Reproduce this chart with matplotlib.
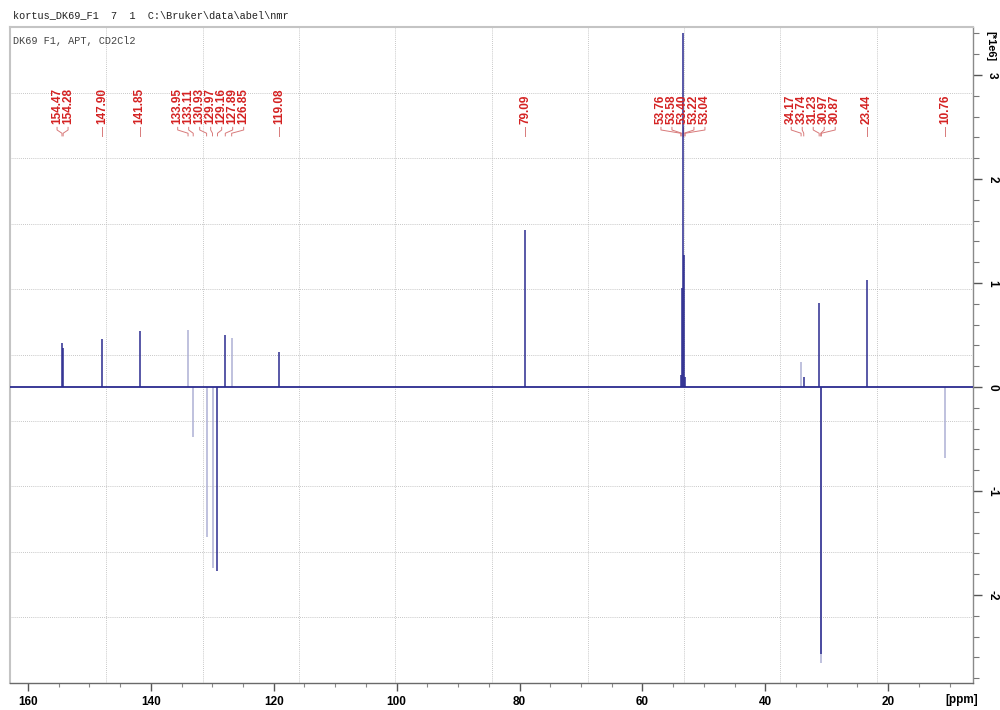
import numpy as np
import matplotlib
matplotlib.use("Agg")
import matplotlib.pyplot as plt
from matplotlib.ticker import MultipleLocator, FixedLocator
import matplotlib.transforms as mtransforms

# peak list: shift (ppm) and APT intensity (units of 1e6)
shifts = [154.47, 154.28, 147.90, 141.85, 133.95, 133.11, 130.93, 129.97,
          129.16, 127.89, 126.85, 119.08, 79.09, 53.76, 53.58, 53.40,
          53.22, 53.04, 34.17, 33.74, 31.23, 30.97, 30.87, 23.44, 10.76]
intensity = [0.42, 0.38, 0.46, 0.54, 0.55, -0.48, -1.44, -1.74,
             -1.77, 0.50, 0.47, 0.34, 1.51, 0.12, 0.95, 3.40,
             1.27, 0.10, 0.24, 0.10, 0.81, -2.57, -2.65, 1.03, -0.68]
# lines that come out faint on the plotter
faint = [133.95, 133.11, 130.93, 129.97, 126.85, 34.17, 30.87, 10.76]

x_ticks = [160, 140, 120, 100, 80, 60, 40, 20]
y_ticks = [-2, -1, 0, 1, 2, 3]

header = "kortus_DK69_F1  7  1  C:\\Bruker\\data\\abel\\nmr"
title = "DK69 F1, APT, CD2Cl2"

navy = "#2b2b8f"
pale = "#aeb0d4"
red = "#d42222"

plt.rcParams["font.family"] = ["Liberation Sans", "DejaVu Sans"]

fig = plt.figure(figsize=(10, 7.1), dpi=100)
ax = fig.add_axes([0.010, 0.038, 0.963, 0.924])

ax.set_xlim(162.93, 6.19)
ax.set_ylim(-2.846, 3.462)

# grid: ten equal divisions of the frame
for k in range(1, 10):
    ax.plot([k / 10, k / 10], [0, 1], transform=ax.transAxes, ls=(0, (1, 1.5)),
            lw=0.6, color="#b5b5b5", zorder=0)
    ax.plot([0, 1], [k / 10, k / 10], transform=ax.transAxes, ls=(0, (1, 1.5)),
            lw=0.6, color="#b5b5b5", zorder=0)

# spectrum
ax.axhline(0, color=navy, lw=1.3, zorder=3)
for s, h in zip(shifts, intensity):
    c = pale if s in faint else navy
    ax.vlines(s, 0, h, colors=c, lw=1.1, zorder=2 if s in faint else 3)

# peak labels, spread apart so they don't overlap
def spread(pos, gap):
    clusters = [[p] for p in pos]
    changed = True
    while changed:
        changed = False
        out = []
        for c in clusters:
            if out:
                prev = out[-1]
                prev_end = np.mean(prev) - (len(prev) - 1) / 2 * gap
                cur_start = np.mean(c) + (len(c) - 1) / 2 * gap
                if prev_end - cur_start < gap:
                    out[-1] = prev + c
                    changed = True
                    continue
            out.append(c)
        clusters = out
    res = []
    for c in clusters:
        m, n = np.mean(c), len(c)
        res += [m + ((n - 1) / 2 - i) * gap for i in range(n)]
    return res

label_x = spread(sorted(shifts, reverse=True), 1.79)
trans = mtransforms.blended_transform_factory(ax.transData, ax.transAxes)
for s, lx in zip(sorted(shifts, reverse=True), label_x):
    ax.text(lx, 0.852, f"{s:.2f}", rotation=90, ha="center", va="bottom",
            color=red, fontsize=8.5, fontweight="bold", transform=trans)
    ax.plot([lx, lx, s, s], [0.847, 0.843, 0.838, 0.834], color="#d87a7a",
            lw=0.7, transform=trans, zorder=1)

# axes styling
for side in ["left", "top"]:
    ax.spines[side].set_color("#c4c4c4")
    ax.spines[side].set_linewidth(1.5)
ax.spines["right"].set_color("#8a8a8a")
ax.spines["bottom"].set_color("#6a6a6a")
ax.spines["right"].set_linewidth(1.0)
ax.spines["bottom"].set_linewidth(1.0)

ax.xaxis.set_major_locator(FixedLocator(x_ticks))
ax.xaxis.set_minor_locator(MultipleLocator(5))
ax.set_xticklabels([str(t) for t in x_ticks])
ax.tick_params(axis="x", which="major", length=5.5, width=1.0, color="#555555",
               pad=3.5, labelsize=8.5)
ax.tick_params(axis="x", which="minor", length=3, width=0.8, color="#888888")

ax.yaxis.tick_right()
ax.yaxis.set_major_locator(FixedLocator(y_ticks))
ax.yaxis.set_minor_locator(MultipleLocator(0.2))
ax.set_yticklabels([str(t) for t in y_ticks])
ax.tick_params(axis="y", which="major", length=6.5, width=1.0, color="#555555",
               pad=3, labelsize=8.5)
ax.tick_params(axis="y", which="minor", length=4.3, width=0.8, color="#777777")
for lbl in ax.get_xticklabels() + ax.get_yticklabels():
    lbl.set_fontweight("bold")
for lbl in ax.get_yticklabels():
    lbl.set_rotation(-90)
    lbl.set_va("center")

fig.text(0.962, 0.0145, "[ppm]", ha="center", va="center",
         fontsize=8.5, fontweight="bold")
fig.text(0.990, 0.935, "[*1e6]", rotation=-90, ha="center", va="center",
         fontsize=8, fontweight="bold")

fig.text(0.013, 0.979, header, family=["Liberation Mono", "DejaVu Sans Mono"],
         fontsize=7.4, ha="left", va="center", color="#222222")
ax.text(0.003, 0.986, title, transform=ax.transAxes,
        family=["Liberation Mono", "DejaVu Sans Mono"], fontsize=7.4,
        ha="left", va="top", color="#444444")

fig.savefig("out.png", dpi=100)
